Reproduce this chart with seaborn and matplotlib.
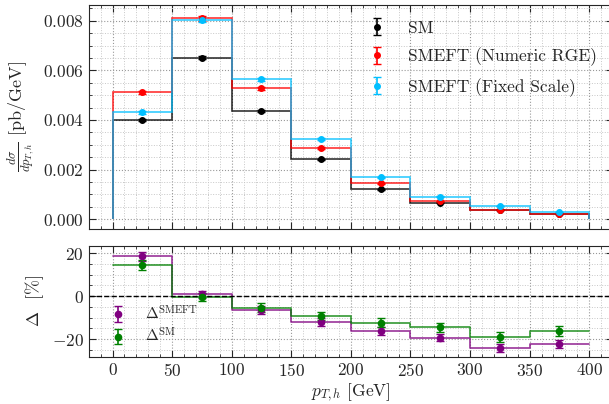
import matplotlib
matplotlib.use("Agg")
import matplotlib.pyplot as plt
import numpy as np
import seaborn as sns
from matplotlib.ticker import MultipleLocator

# bins in p_T,h [GeV]
edges = [0, 50, 100, 150, 200, 250, 300, 350, 400]
centers = [25, 75, 125, 175, 225, 275, 325, 375]

# dsigma/dpT [pb/GeV]
sm = [0.00400, 0.00651, 0.00436, 0.00241, 0.00121, 0.00065, 0.00036, 0.00020]
sm_err = [0.00004, 0.00005, 0.00004, 0.00003, 0.00002, 0.00002, 0.00001, 0.00001]
smeft_rge = [0.00511, 0.00810, 0.00527, 0.00285, 0.00144, 0.00071, 0.00037, 0.00021]
smeft_rge_err = [0.00006, 0.00009, 0.00006, 0.00004, 0.00003, 0.00002, 0.00001, 0.00001]
smeft_fixed = [0.00430, 0.00803, 0.00565, 0.00323, 0.00168, 0.00090, 0.00052, 0.00028]
smeft_fixed_err = [0.00005, 0.00008, 0.00006, 0.00004, 0.00003, 0.00002, 0.00001, 0.00001]

# relative differences [%]
delta_smeft = [18.5, 0.8, -6.5, -12.0, -16.2, -19.3, -24.2, -22.3]
delta_smeft_err = [2.0, 1.8, 1.8, 1.8, 1.8, 1.8, 1.8, 1.8]
delta_sm = [14.5, -0.4, -5.3, -9.2, -12.4, -14.6, -19.0, -16.3]
delta_sm_err = [2.4, 2.0, 2.0, 2.0, 2.2, 2.2, 2.4, 2.4]

sns.set_style("ticks")
plt.rcParams["font.family"] = "serif"
plt.rcParams["font.serif"] = ["cmr10"]
plt.rcParams["mathtext.fontset"] = "cm"
plt.rcParams["axes.formatter.use_mathtext"] = True
plt.rcParams["font.size"] = 12.5

fig = plt.figure(figsize=(6.09, 4.04), dpi=100)
ax1 = fig.add_axes([0.1456, 0.4332, 0.861, 0.5552])
ax2 = fig.add_axes([0.1456, 0.1171, 0.861, 0.2747])

cyan = "#00bfff"
series = [("SM", sm, sm_err, "black"),
          ("SMEFT (Numeric RGE)", smeft_rge, smeft_rge_err, "red"),
          ("SMEFT (Fixed Scale)", smeft_fixed, smeft_fixed_err, cyan)]
for lab, vals, err, col in series:
    ax1.stairs(vals, edges, baseline=0, color=col, lw=1.2, alpha=0.8)
    ax1.errorbar(centers, vals, yerr=err, fmt="o", color=col, ms=4,
                 capsize=3, elinewidth=1.2, label=lab)
ax1.legend(loc="upper right", frameon=False, fontsize=12.5, labelspacing=0.68)
ax1.set_xlim(-20, 420)
ax1.set_ylim(-0.0004, 0.00865)
ax1.set_ylabel(r"$\frac{d\sigma}{dp_{T,h}}$ [pb/GeV]", fontsize=13)
ax1.set_xticklabels([])

for lab, vals, err, col in [(r"$\Delta^{\rm SMEFT}$", delta_smeft, delta_smeft_err, "purple"),
                            (r"$\Delta^{\rm SM}$", delta_sm, delta_sm_err, "green")]:
    sns.lineplot(x=edges, y=list(vals) + [vals[-1]], drawstyle="steps-post",
                 color=col, lw=1.2, alpha=0.8, ax=ax2)
    ax2.errorbar(centers, vals, yerr=err, fmt="o", color=col, ms=4.5,
                 capsize=3, elinewidth=1.2, label=lab)
ax2.axhline(0, color="black", ls="--", lw=1)
ax2.legend(loc="lower left", frameon=False, fontsize=11, labelspacing=0.3,
           bbox_to_anchor=(0, -0.02))
ax2.set_xlim(-20, 420)
ax2.set_ylim(-28.2, 23.5)
ax2.set_xlabel(r"$p_{T,h}$ [GeV]", labelpad=2)
ax2.set_ylabel(r"$\Delta$  [%]", fontsize=13)

for ax in (ax1, ax2):
    ax.xaxis.set_major_locator(MultipleLocator(50))
    ax.xaxis.set_minor_locator(MultipleLocator(10))
    ax.tick_params(which="both", direction="in", top=True, right=True)
    ax.tick_params(which="major", length=5)
    ax.tick_params(which="minor", length=2.5)
    ax.grid(which="major", ls=":", color="0.6", lw=0.8)
    ax.grid(which="minor", ls=":", color="0.78", lw=0.7)
    ax.set_axisbelow(True)
ax1.yaxis.set_major_locator(MultipleLocator(0.002))
ax1.yaxis.set_minor_locator(MultipleLocator(0.0005))
ax2.yaxis.set_major_locator(MultipleLocator(20))
ax2.yaxis.set_minor_locator(MultipleLocator(5))

fig.savefig("out.png", dpi=100)
